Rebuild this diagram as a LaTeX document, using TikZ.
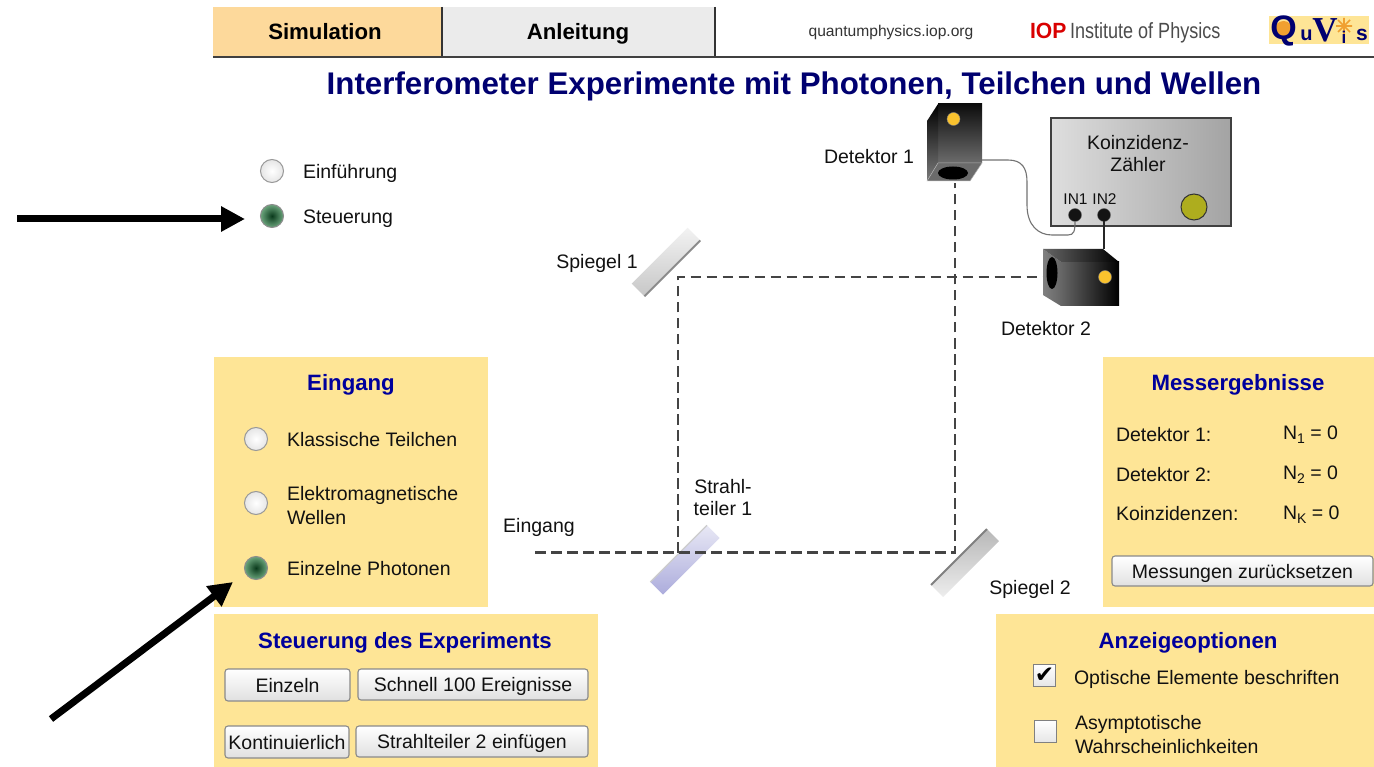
\documentclass[tikz,border=0pt]{standalone}
\usepackage{fontspec}
\setmainfont{Liberation Sans}
\newfontfamily\logoserif{Liberation Serif}
\newfontfamily\symfont{DejaVu Sans}
\usetikzlibrary{arrows.meta}
\definecolor{panelc}{HTML}{FEE596}
\definecolor{headc}{HTML}{00009C}
\definecolor{titlec}{HTML}{000070}
\definecolor{tabon}{HTML}{FDD99B}
\definecolor{taboff}{HTML}{EBEBEB}
\definecolor{btnb}{HTML}{8A8A8A}
\definecolor{beamc}{HTML}{444444}
\definecolor{txt}{HTML}{111111}
\definecolor{raddark}{HTML}{0A3A1C}
\definecolor{radgreen}{HTML}{6BA57C}
\definecolor{lampc}{HTML}{AEAD1E}
\definecolor{dotc}{HTML}{F9C22E}
\definecolor{bslight}{HTML}{E8E8F5}
\definecolor{bsdark}{HTML}{ACACDC}
\definecolor{logoo}{HTML}{F0A030}
\tikzset{
  x=1pt,y=-1pt,
  every node/.style={inner sep=0pt,outer sep=0pt,text=txt},
  lab/.style={font=\fontsize{19.5}{23}\selectfont,text height=15pt,text depth=0pt},
  labm/.style={font=\fontsize{19.5}{23}\selectfont,align=left},
  labc/.style={font=\fontsize{19.5}{22}\selectfont,align=center},
  head/.style={font=\bfseries\fontsize{22.2}{26}\selectfont,text=headc,text height=14pt,text depth=0pt},
  tabt/.style={font=\bfseries\fontsize{22.2}{26}\selectfont,text=black,text height=18pt,text depth=0pt},
  panel/.style={fill=panelc,draw=none},
  btn/.style={draw=btnb,line width=1.1pt,rounded corners=3pt,top color=white,bottom color=white!88!black,anchor=north west,text=txt,font=\fontsize{19.5}{24}\selectfont,text height=14pt,text depth=0pt},
  radiooff/.style={circle,minimum size=23pt,draw=black!40,line width=1pt,inner color=white,outer color=black!10},
  radioon/.style={circle,minimum size=23pt,draw=black!45,line width=1pt,inner color=raddark,outer color=radgreen},
  chk/.style={draw=black!50,line width=1.4pt,minimum size=22pt,top color=white,bottom color=black!10},
  beam/.style={draw=beamc,line width=2.6pt,dash pattern=on 10.5pt off 5.5pt},
  bigarrow/.style={line width=7pt,draw=black,-{Triangle[length=24pt,width=24pt]}},
  wire/.style={draw=black!55,line width=1.1pt},
  jack/.style={circle,fill=black!92,draw=black!60,minimum size=13pt},
  ydot/.style={circle,fill=dotc,draw=black!50,line width=.4pt,minimum size=13pt},
}
\begin{document}
\begin{tikzpicture}
\useasboundingbox (0,0) rectangle (1374,767);
\fill[white] (0,0) rectangle (1374,767);
% tabs
\fill[tabon] (213,7) rectangle (442,57);
\fill[taboff] (443,7) rectangle (715,57);
\draw[black!80,line width=1.4pt] (442,7) -- (442,57);
\draw[black!80,line width=1.4pt] (715,7) -- (715,57);
\draw[black!75,line width=1.4pt] (213,57) -- (1374,57);
\node[tabt] (tsim) at (325,31) {Simulation};
\node[tabt] (tanl) at (578,31) {Anleitung};
\node[font=\fontsize{15.6}{18}\selectfont,text=black!80,text height=11pt,text depth=0pt] (url) at (891,31) {quantumphysics.iop.org};
\node[font=\bfseries\fontsize{22}{26}\selectfont,text=red!85!black,anchor=west,xscale=.96,text height=16pt,text depth=0pt] (iop) at (1030,31) {IOP};
\node[font=\fontsize{22}{26}\selectfont,text=black!70,anchor=west,xscale=.82,text height=16pt,text depth=0pt] (iopt) at (1070,31) {Institute of Physics};
% QuVis logo
\fill[panelc] (1269,16) rectangle (1369,44);
\fill[logoo] (1283.5,30) circle[radius=9pt];
\draw[logoo,line width=1.6pt] (1344,18)--(1344,34) (1336,26)--(1352,26) (1338,20)--(1350,32) (1350,20)--(1338,32);
\node[font=\bfseries\fontsize{34}{34}\selectfont,text=titlec] (lq) at (1283.5,31) {Q};
\node[font=\bfseries\fontsize{20}{22}\selectfont,text=titlec] (lu) at (1306.5,35) {u};
\node[font=\logoserif\bfseries\fontsize{35}{35}\selectfont,text=titlec] (lv) at (1325,30) {V};
\node[font=\bfseries\fontsize{17}{20}\selectfont,text=titlec] (li) at (1344,37) {i};
\node[font=\bfseries\fontsize{21}{22}\selectfont,text=titlec] (ls) at (1362,35) {s};
% title
\node[font=\bfseries\fontsize{31.3}{34}\selectfont,text=titlec,text height=22pt,text depth=0pt] (title) at (794,84) {Interferometer Experimente mit Photonen, Teilchen und Wellen};
% mode radios
\node[radiooff] (r1) at (272,171) {};
\node[radioon] (r2) at (272,216) {};
\node[lab,anchor=west] (l1) at (303,171) {Einführung};
\node[lab,anchor=west] (l2) at (303,216) {Steuerung};
% panels
\fill[panel] (214,357) rectangle (488,607);
\fill[panel] (214,614) rectangle (598,767);
\fill[panel] (1103,357) rectangle (1374,607);
\fill[panel] (996,614) rectangle (1374,767);
% Eingang panel
\node[head] (hein) at (351,384) {Eingang};
\node[radiooff] (e1) at (256,439) {};
\node[radiooff] (e2) at (256,503) {};
\node[radioon] (e3) at (256,568) {};
\node[lab,anchor=west] (el1) at (287,439) {Klassische Teilchen};
\node[labm,anchor=west] (el2) at (287,506) {Elektromagnetische\\[1pt]Wellen};
\node[lab,anchor=west] (el3) at (287,568) {Einzelne Photonen};
% Steuerung panel
\node[head] (hst) at (405,641) {Steuerung des Experiments};
\node[btn,minimum width=125pt,minimum height=32pt] (b1) at (225,669) {Einzeln};
\node[btn,minimum width=230pt,minimum height=31pt] (b2) at (358,669) {Schnell 100 Ereignisse};
\node[btn,minimum width=124pt,minimum height=32pt] (b3) at (225,726) {Kontinuierlich};
\node[btn,minimum width=232pt,minimum height=31pt] (b4) at (356,726) {Strahlteiler 2 einfügen};
% Messergebnisse
\node[head] (hme) at (1238,384) {Messergebnisse};
\node[lab,anchor=west] (m1) at (1116,434) {Detektor 1:};
\node[lab,anchor=west] (m2) at (1116,474) {Detektor 2:};
\node[lab,anchor=west] (m3) at (1116,513) {Koinzidenzen:};
\node[lab,anchor=west] (n1) at (1283,432) {N\raisebox{-4pt}{\fontsize{14}{14}\selectfont 1} = 0};
\node[lab,anchor=west] (n2) at (1283,472) {N\raisebox{-4pt}{\fontsize{14}{14}\selectfont 2} = 0};
\node[lab,anchor=west] (n3) at (1283,512) {N\raisebox{-4pt}{\fontsize{14}{14}\selectfont K} = 0};
\node[btn,minimum width=261pt,minimum height=30pt] (b5) at (1112,556) {Messungen zurücksetzen};
% Anzeigeoptionen
\node[head] (han) at (1188,641) {Anzeigeoptionen};
\node[chk] (c1) at (1044.5,675.5) {};
\node[font=\symfont\fontsize{23}{24}\selectfont,text=black] (c1m) at (1044.5,675.5) {\symbol{"2714}};
\node[chk] (c2) at (1045.5,731.5) {};
\node[lab,anchor=west] (cl1) at (1074,677) {Optische Elemente beschriften};
\node[labm,anchor=west] (cl2) at (1075,735) {Asymptotische\\[1pt]Wahrscheinlichkeiten};
% mirrors
\node[rotate=45,minimum width=79pt,minimum height=18pt,top color=white!95!black,bottom color=black!22] (sp1) at (666,262) {};
\draw[black!45,line width=1.8pt] (sp1.south west) -- (sp1.south east);
\node[rotate=45,minimum width=79pt,minimum height=17pt,top color=black!28,bottom color=black!7] (sp2) at (965,563) {};
\draw[black!50,line width=1.8pt] (sp2.north west) -- (sp2.north east);
\node[rotate=45,minimum width=80pt,minimum height=18pt,top color=bslight,bottom color=bsdark] (bs) at (685,560) {};
\draw[black!20,line width=1.2pt] (bs.north west) -- (bs.north east);
% counter
\draw[black!75,line width=1.4pt,left color=black!13,right color=black!36] (1051,118) rectangle (1231,226);
\node[labc] (kz) at (1138,154) {Koinzidenz-\\Zähler};
\node[font=\fontsize{15.5}{18}\selectfont] (in1) at (1075.5,199) {IN1};
\node[font=\fontsize{15.5}{18}\selectfont] (in2) at (1104.5,199) {IN2};
\node[jack] (j1) at (1075,215) {};
\node[jack] (j2) at (1104,215) {};
\node[circle,fill=lampc,draw=black!80,line width=1pt,minimum size=26pt] (lamp) at (1194,207) {};
% beams
\coordinate (bstart) at (535,552.5);
\coordinate (bsc) at (678,552.5);
\coordinate (spa) at (678,277);
\coordinate (d2in) at (1044,277);
\coordinate (spb) at (955,552.5);
\coordinate (d1in) at (955,183);
\path[beam] (bstart) -- (spb) -- (d1in);
\path[beam] (bsc) -- (spa) -- (d2in);
% detector 1
\shade[top color=black!95,bottom color=black!58] (938,104) rectangle (982,163);
\shade[top color=black,bottom color=black!52] (938,104) -- (927,121) -- (927,181) -- (938,163) -- cycle;
\fill[black!58] (938,163) -- (982,163) -- (970,181) -- (927,181) -- cycle;
\draw[black!30,line width=.5pt] (938,163) -- (982,163) -- (970,181) -- (927,181) -- (938,163);
\fill[black] (953,173) ellipse[x radius=15pt,y radius=6.5pt];
\node[ydot] (d1dot) at (953.5,119) {};
\coordinate (d1out) at (982,160);
% detector 2
\shade[left color=black!60,right color=black] (1061,262) rectangle (1119,306);
\shade[left color=black!50,right color=black!60] (1043,249) -- (1061,262) -- (1061,306) -- (1043,295) -- cycle;
\shade[left color=black!60,right color=black] (1043,249) -- (1103,249) -- (1119,262) -- (1061,262) -- cycle;
\fill[black] (1052,273) ellipse[x radius=5.5pt,y radius=16pt];
\node[ydot] (d2dot) at (1105,277) {};
\coordinate (d2top) at (1104,249);
% wires
\draw[wire] (d1out) -- (1008,160) .. controls (1022,160) and (1027,168) .. (1027,182) -- (1027,205) .. controls (1027,225) and (1038,235) .. (1052,235) -- (1068,235) .. controls (1074,235) and (1075,231) .. (j1);
\draw[black!85,line width=1.1pt] (j2) -- (d2top);
% optical labels
\node[lab] (ld1) at (869,156) {Detektor 1};
\node[lab] (ld2) at (1046,328) {Detektor 2};
\node[lab] (ls1) at (597,261) {Spiegel 1};
\node[lab] (ls2) at (1030,587) {Spiegel 2};
\node[lab] (lein) at (539,525) {Eingang};
\node[labc] (lst) at (723,498) {Strahl-\\teiler 1};
% pointer arrows
\coordinate (a1s) at (17,219);
\coordinate (a1e) at (245,219);
\coordinate (a2s) at (51,719);
\coordinate (a2e) at (233,582);
\draw[bigarrow] (a1s) -- (a1e);
\draw[bigarrow] (a2s) -- (a2e);
\end{tikzpicture}
\end{document}
